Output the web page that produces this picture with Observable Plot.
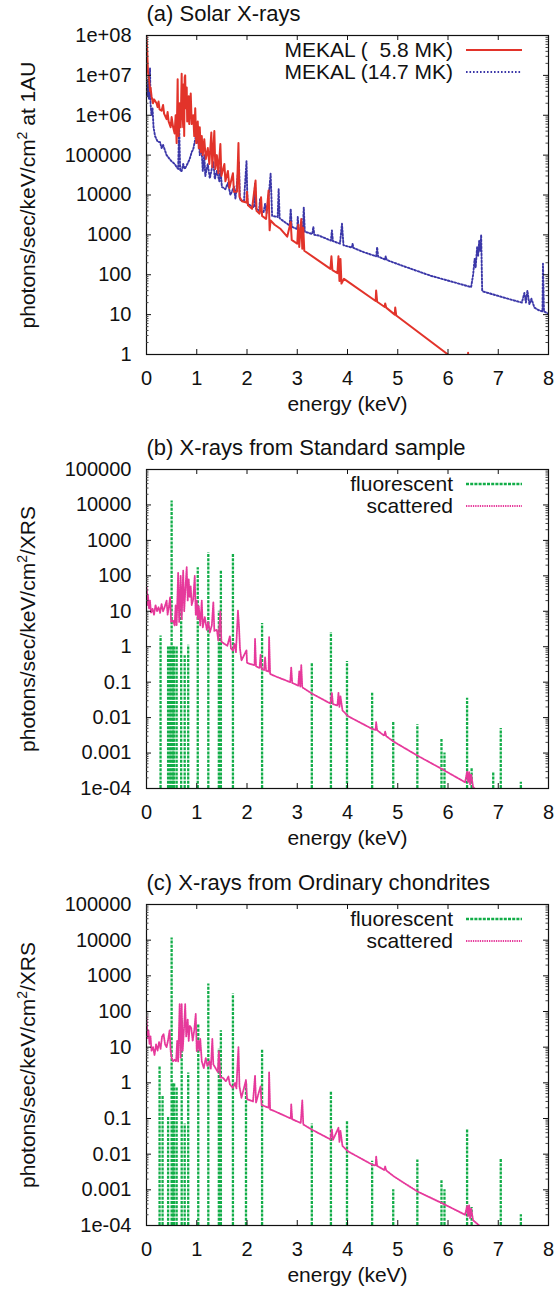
<!DOCTYPE html>
<html>
<head>
<meta charset="utf-8">
<script src="https://cdn.jsdelivr.net/npm/d3@7"></script>
<script src="https://cdn.jsdelivr.net/npm/@observablehq/plot@0.6"></script>
<style>
  html, body { margin: 0; padding: 0; background: #fff; }
  #chart { width: 556px; }
  #chart svg { display: block; background: #fff; }
</style>
</head>
<body>
<div id="chart"></div>
<script>
// ---------------- data ----------------
const energyTicks = [0, 1, 2, 3, 4, 5, 6, 7, 8];
const solarTicks = [1, 10, 100, 1e3, 1e4, 1e5, 1e6, 1e7, 1e8];
const solarTickLabels = ["1", "10", "100", "1000", "10000", "100000", "1e+06", "1e+07", "1e+08"];
const sampleTicks = [1e-4, 1e-3, 1e-2, 0.1, 1, 10, 100, 1e3, 1e4, 1e5];
const sampleTickLabels = ["1e-04", "0.001", "0.01", "0.1", "1", "10", "100", "1000", "10000", "100000"];

const titles = ["(a) Solar X-rays", "(b) X-rays from Standard sample", "(c) X-rays from Ordinary chondrites"];
const yLabels = ["photons/sec/keV/cm2 at 1AU", "photons/sec/keV/cm2/XRS", "photons/sec/keV/cm2/XRS"];
const xLabel = "energy (keV)";
const solarNames = ["MEKAL (  5.8 MK)", "MEKAL (14.7 MK)"];
const sampleNames = ["fluorescent", "scattered"];

// (a) MEKAL 5.8 MK
const mekal58E = [0.00,0.01,0.02,0.03,0.05,0.07,0.08,0.10,0.13,0.15,0.20,0.22,0.24,0.26,0.30,0.33,0.35,0.40,0.42,0.44,0.48,0.50,0.53,0.56,0.58,0.60,0.62,0.63,0.64,0.66,0.67,0.68,0.70,0.71,0.72,0.73,0.74,0.75,0.76,0.77,0.78,0.79,0.80,0.81,0.82,0.84,0.85,0.86,0.88,0.90,0.93,0.95,0.97,0.99,1.00,1.02,1.04,1.06,1.08,1.10,1.12,1.15,1.18,1.22,1.25,1.29,1.31,1.35,1.37,1.40,1.43,1.47,1.49,1.55,1.57,1.62,1.65,1.72,1.74,1.80,1.83,1.85,1.90,1.99,2.00,2.02,2.10,2.17,2.19,2.25,2.28,2.30,2.38,2.43,2.45,2.47,2.55,2.67,2.80,2.87,2.89,3.00,3.02,3.04,3.08,3.10,3.12,3.14,3.66,3.68,3.70,3.80,3.82,3.84,3.86,3.88,3.93,4.56,4.57,4.59,4.74,4.75,4.77,4.94,4.95,4.97,6.00,6.39,6.40,6.41,8.00];
const mekal58V = [1e8,6e7,2.5e7,1.2e7,8e6,4e6,5e6,3e6,2e6,2.5e6,2e6,1.6e6,2.2e6,1.4e6,1.3e6,1.8e6,1.1e6,8e5,1.2e6,7e5,5e5,9e5,5e5,3.5e5,1e6,2e5,8e6,4e5,3e5,2e6,6e5,5e5,1.1e7,8e5,1e6,5e5,6e6,3e5,9e6,1e7,1.5e6,2e6,5e6,7e5,8e5,3e6,6e5,1e6,3.5e6,6e5,1e6,3e5,1.5e6,2e5,4e5,7e5,1.5e5,5e5,1.2e5,3e5,1e5,2.5e5,8e4,1.5e5,6e4,3.7e5,5e4,4e5,4.5e4,1e5,3.5e4,1.9e5,3e4,6e4,2.2e4,4e4,1.5e4,3.5e4,1.2e4,1.2e4,2e5,9e3,7e3,6.5e3,1.2e4,5.5e3,4.5e3,2.3e4,4e3,3.4e3,8.8e3,3e3,2.5e3,1.3e4,1.3e3,2.3e3,1.8e3,1.4e3,9e2,2.1e3,7.5e2,6e2,1.8e3,5e2,2.5e3,4.5e2,1.5e3,4e2,1.4e2,2.9e2,1.3e2,1.1e2,2.9e2,7e1,2.5e2,6e1,7.9e1,2.2e1,4e1,2.1e1,1.55e1,1.9e1,1.5e1,1.0e1,1.5e1,9.5,1.0,0.45,1.1,0.44,0.013];

// (a) MEKAL 14.7 MK
const mekal147E = [0.00,0.02,0.03,0.05,0.07,0.08,0.10,0.12,0.14,0.17,0.22,0.27,0.30,0.33,0.36,0.40,0.46,0.50,0.56,0.60,0.63,0.65,0.67,0.70,0.73,0.76,0.80,0.86,0.90,0.93,0.97,1.00,1.02,1.04,1.06,1.09,1.12,1.15,1.17,1.22,1.26,1.33,1.36,1.40,1.45,1.47,1.50,1.57,1.62,1.67,1.74,1.77,1.84,1.86,1.94,1.99,2.01,2.14,2.16,2.18,2.24,2.26,2.28,2.33,2.36,2.39,2.44,2.47,2.50,2.61,2.63,2.65,2.85,2.87,2.89,3.00,3.01,3.03,3.11,3.13,3.15,3.30,3.32,3.34,3.43,3.67,3.69,3.71,3.85,3.89,3.92,4.09,4.10,4.12,4.32,4.57,4.59,4.61,4.75,4.76,4.78,4.99,5.65,6.46,6.50,6.53,6.55,6.58,6.60,6.62,6.64,6.66,6.68,6.70,7.10,7.47,7.52,7.55,7.58,7.62,7.66,7.72,7.80,7.88,7.89,7.91,8.00];
const mekal147V = [5.5e6,3e6,8e6,2.5e6,1.5e7,2e6,1e6,1.5e6,5e5,3e5,2.2e5,2.1e5,1.5e5,1.8e5,1.4e5,1e5,8e4,7e4,6e4,5e4,4.5e4,5.5e5,4e4,4e4,6e4,4.5e4,5.5e4,8e4,1.2e5,1.4e5,2.5e5,4e5,2e5,3e5,1e5,2e5,4e4,1e5,3e4,6e4,2.6e4,7e4,2.5e4,4e4,2.2e4,5e4,1.6e4,1.4e4,2e4,1e4,1.6e4,8e3,6.6e4,7.5e3,7e3,7e4,6e3,4.9e3,2e4,4.5e3,4e3,8e3,3.8e3,3.7e3,6e3,3.5e3,1.2e4,3.4e4,3e3,2.8e3,1.4e4,2.6e3,1.7e3,4.5e3,1.6e3,1.4e3,2.8e3,1.3e3,1.3e3,4.9e3,1.2e3,1.05e3,1.6e3,1e3,9.6e2,7.2e2,1.3e3,7e2,6e2,1.9e3,5.5e2,4.8e2,6e2,4.7e2,3.7e2,2.9e2,4.9e2,2.85e2,2.4e2,2.9e2,2.35e2,1.87e2,9.5e1,4.9e1,1e2,2.5e2,1.5e2,5e2,3e2,7e2,4e2,1e3,4e1,3.8e1,2.7e1,2e1,3.5e1,2e1,4e1,1.8e1,2.5e1,1.5e1,1.3e1,1.2e1,1.9e2,1.2e1,1.05e1];

// (b) Standard sample
const stdFluorE = [0.28,0.43,0.47,0.50,0.53,0.55,0.60,0.69,0.76,0.83,1.02,1.23,1.44,1.48,1.72,2.30,3.29,3.67,3.99,4.49,4.91,5.39,5.87,5.93,6.38,6.47,6.90,7.05,7.45];
const stdFluorV = [2.0,1.0,1.0,1.3e4,1.0,1.0,1.05,44,0.56,1.1,170,450,10,135,400,4.5,0.34,2.5,0.38,0.049,0.0078,0.0063,0.0024,0.001,0.035,0.00036,0.00029,0.0049,0.00015];
const stdScatE = [0.00,0.01,0.02,0.03,0.05,0.07,0.09,0.12,0.15,0.18,0.21,0.24,0.27,0.30,0.33,0.36,0.40,0.42,0.45,0.47,0.49,0.53,0.56,0.58,0.60,0.63,0.65,0.68,0.70,0.73,0.75,0.78,0.80,0.82,0.84,0.86,0.88,0.90,0.93,0.96,0.98,1.00,1.02,1.04,1.07,1.10,1.12,1.16,1.20,1.23,1.26,1.30,1.33,1.35,1.40,1.43,1.47,1.49,1.55,1.61,1.66,1.68,1.72,1.75,1.78,1.82,1.84,1.86,1.89,1.99,2.00,2.02,2.15,2.16,2.18,2.25,2.27,2.29,2.34,2.36,2.38,2.43,2.44,2.46,2.60,2.86,2.88,2.90,3.02,3.04,3.06,3.08,3.10,3.30,3.66,3.69,3.71,3.80,3.82,3.84,3.86,3.90,4.01,4.49,4.56,4.57,4.59,4.73,4.75,4.77,4.92,5.39,5.87,6.34,6.38,6.40,6.42,6.44,6.46,6.50,6.70];
const stdScatV = [50,35,15,28,12,20,9,12,8,15,10,13,9,16,10,13,20,8,15,25,5,5.5,4,15,4,125,5,100,6,140,10,60,175,20,80,25,50,15,22,100,8,20,6,14,4,20,3.5,7,3,5,2.5,4,18,2.8,3,1.5,10,1.4,1.2,1.07,2,0.9,0.78,1.2,0.7,10.5,4,0.9,0.41,0.8,0.36,0.34,0.3,1.66,0.28,0.25,0.6,0.24,0.22,0.5,0.21,0.2,1.9,0.17,0.14,0.1,0.26,0.095,0.08,0.2,0.075,0.3,0.072,0.047,0.025,0.05,0.024,0.022,0.05,0.02,0.04,0.016,0.011,0.0048,0.0045,0.0074,0.0044,0.0031,0.004,0.003,0.0021,0.00085,0.00036,0.00015,0.0003,0.00015,0.00029,0.00013,0.00025,0.00011,0.00006];

// (c) Ordinary chondrites
const ocFluorE = [0.26,0.32,0.43,0.50,0.53,0.55,0.60,0.70,0.76,0.83,1.03,1.23,1.44,1.48,1.72,1.98,2.30,3.29,3.67,3.99,4.49,4.91,5.39,5.87,5.93,6.38,6.47,7.05,7.45];
const ocFluorV = [2.8,0.43,0.11,1.15e4,1.0,1.0,0.75,62,0.07,1.9,43,590,9,29,310,1.0,8.7,0.07,0.55,0.085,0.0063,0.001,0.0069,0.0018,0.001,0.048,0.00032,0.0075,0.0002];
const ocScatE = [0.00,0.01,0.02,0.04,0.06,0.08,0.10,0.13,0.16,0.19,0.22,0.25,0.28,0.31,0.34,0.37,0.40,0.43,0.46,0.48,0.50,0.53,0.56,0.59,0.61,0.63,0.66,0.68,0.70,0.72,0.75,0.77,0.79,0.82,0.84,0.86,0.89,0.92,0.95,0.98,1.00,1.03,1.05,1.07,1.10,1.14,1.18,1.21,1.25,1.28,1.31,1.33,1.38,1.42,1.44,1.47,1.52,1.58,1.63,1.66,1.72,1.76,1.79,1.81,1.83,1.85,1.89,1.98,2.00,2.12,2.16,2.18,2.27,2.29,2.43,2.44,2.46,2.55,2.87,2.88,2.90,3.07,3.10,3.12,3.30,3.66,3.69,3.71,3.82,3.84,3.86,3.90,4.01,4.49,4.56,4.57,4.59,4.73,4.75,4.77,4.92,5.39,5.87,6.34,6.38,6.40,6.42,6.44,6.46,6.50,6.62,6.80];
const ocScatV = [70,40,18,30,12,20,8,10,6,12,8,14,9,20,23,12,10,16,30,8,5,4,4.5,4,15,4,160,5,160,8,40,160,20,60,15,40,35,15,30,85,7.8,15,8,17,4,2.6,5,3,4,2.5,17,3.3,2.5,2,8,1.4,1.4,1.1,1.5,0.9,0.72,1,0.7,3,10,0.8,0.38,1.2,0.35,0.3,1.6,0.28,0.8,0.24,0.2,2,0.18,0.16,0.1,0.25,0.095,0.075,0.32,0.068,0.048,0.026,0.05,0.025,0.055,0.022,0.045,0.017,0.012,0.0051,0.0048,0.0087,0.0047,0.0036,0.0045,0.0035,0.0024,0.0009,0.00043,0.0002,0.00035,0.00018,0.00038,0.00016,0.0003,0.00014,0.0001,0.00006];

// ---------------- styling ----------------
const FONT = '"Liberation Sans", Arial, Helvetica, sans-serif';
const FS = 20, FS_LABEL = 21, FS_TITLE = 22;
const RED = "#e2332a", BLUE = "#3b37a8", GREEN = "#12ad48", PINK = "#e6399b";
const BLUE_DASH = "1.6,1.9", PINK_DASH = "1.3,1", GREEN_DASH = "3,1.2";
const W = 556, ML = 146, MR = 8;
const FW = W - ML - MR;

function minorTicks(major) {
  const out = [];
  for (let i = 0; i < major.length - 1; i++) for (let m = 2; m <= 9; m++) out.push(major[i] * m);
  return out;
}

function idx(a) { return a.map((_, i) => i); }

function makePanel(cfg) {
  const FH = cfg.height - cfg.marginTop - cfg.marginBottom;
  const labelMap = new Map(cfg.yTicks.map((t, i) => [t, cfg.yTickLabels[i]]));
  const minors = minorTicks(cfg.yTicks);
  const marks = [];
  for (const s of cfg.impulses || []) {
    marks.push(Plot.ruleX(idx(s.E), {x: i => s.E[i], y1: cfg.yDomain[0], y2: i => s.V[i],
      stroke: s.color, strokeWidth: 2.3, strokeDasharray: GREEN_DASH, clip: true}));
  }
  for (const s of cfg.lines) {
    marks.push(Plot.line(idx(s.E), {x: i => s.E[i], y: i => s.V[i], stroke: s.color,
      strokeWidth: s.width, strokeDasharray: s.dash, strokeLinejoin: "round", clip: true}));
  }
  marks.push(
    Plot.frame({stroke: "#111", strokeWidth: 1.2}),
    Plot.tickX(energyTicks, {x: d => d, insetTop: FH - 5, stroke: "#111"}),
    Plot.tickX(energyTicks, {x: d => d, insetBottom: FH - 5, stroke: "#111"}),
    Plot.tickY(cfg.yTicks, {y: d => d, insetRight: FW - 5, stroke: "#111"}),
    Plot.tickY(cfg.yTicks, {y: d => d, insetLeft: FW - 5, stroke: "#111"}),
    Plot.tickY(minors, {y: d => d, insetRight: FW - 2.5, stroke: "#444"}),
    Plot.tickY(minors, {y: d => d, insetLeft: FW - 2.5, stroke: "#444"}),
    Plot.axisX(energyTicks, {tickSize: 0, tickPadding: 16, label: null, fontSize: FS, fill: "#111"}),
    Plot.axisY(cfg.yTicks, {tickSize: 0, tickPadding: 15, label: null, fontSize: FS, fill: "#111",
      tickFormat: d => labelMap.get(d)}),
    Plot.text([cfg.title], {frameAnchor: "top-left", dy: -22, textAnchor: "start", lineAnchor: "middle",
      fontSize: FS_TITLE, fill: "#111"}),
    Plot.text([xLabel], {frameAnchor: "bottom", dy: 50, lineAnchor: "middle", fontSize: FS_LABEL, fill: "#111"}),
    Plot.text([cfg.ylabel], {frameAnchor: "left", dx: -118.5, rotate: -90, lineAnchor: "middle",
      textAnchor: "middle", fontSize: FS_LABEL, fill: "#111"})
  );
  const svg = Plot.plot({
    width: W, height: cfg.height,
    marginLeft: ML, marginRight: MR, marginTop: cfg.marginTop, marginBottom: cfg.marginBottom,
    x: {domain: [0, 8]},
    y: {type: "log", domain: cfg.yDomain},
    style: {fontFamily: FONT, fontSize: FS + "px", background: "#fff", color: "#111", overflow: "visible"},
    marks
  });
  const s = d3.select(svg);
  // superscript 2 in the y label
  s.selectAll("text").filter(function () { return this.textContent === cfg.ylabel; }).each(function () {
    const t = d3.select(this);
    const [a, b] = cfg.ylabel.split("cm2");
    t.text(null);
    t.append("tspan").text(a + "cm");
    t.append("tspan").attr("dy", "-8").attr("font-size", "14px").text("2");
    t.append("tspan").attr("dy", "8").text(b);
  });
  // legend
  const lg = s.append("g").attr("font-family", FONT).attr("font-size", FS_LABEL).attr("fill", "#111");
  cfg.legend.forEach((e, i) => {
    const y = cfg.marginTop + 15 + i * 22;
    lg.append("text").attr("x", 453).attr("y", y).attr("dy", "0.35em").attr("text-anchor", "end")
      .attr("xml:space", "preserve").style("white-space", "pre").text(e.name);
    lg.append("line").attr("x1", 466).attr("x2", 522).attr("y1", y).attr("y2", y)
      .attr("stroke", e.color).attr("stroke-width", e.width).attr("stroke-dasharray", e.dash);
  });
  return svg;
}

const chart = document.getElementById("chart");

chart.appendChild(makePanel({
  height: 430, marginTop: 35, marginBottom: 76,
  yDomain: [1, 1e8], yTicks: solarTicks, yTickLabels: solarTickLabels,
  title: titles[0], ylabel: yLabels[0],
  lines: [
    {E: mekal147E, V: mekal147V, color: BLUE, width: 1.9, dash: BLUE_DASH},
    {E: mekal58E, V: mekal58V, color: RED, width: 2, dash: null}
  ],
  legend: [
    {name: solarNames[0], color: RED, width: 2, dash: null},
    {name: solarNames[1], color: BLUE, width: 1.9, dash: BLUE_DASH}
  ]
}));

chart.appendChild(makePanel({
  height: 435, marginTop: 39, marginBottom: 77,
  yDomain: [1e-4, 1e5], yTicks: sampleTicks, yTickLabels: sampleTickLabels,
  title: titles[1], ylabel: yLabels[1],
  impulses: [{E: stdFluorE, V: stdFluorV, color: GREEN}],
  lines: [{E: stdScatE, V: stdScatV, color: PINK, width: 1.8, dash: PINK_DASH}],
  legend: [
    {name: sampleNames[0], color: GREEN, width: 2.3, dash: GREEN_DASH},
    {name: sampleNames[1], color: PINK, width: 1.8, dash: PINK_DASH}
  ]
}));

chart.appendChild(makePanel({
  height: 427, marginTop: 39, marginBottom: 67,
  yDomain: [1e-4, 1e5], yTicks: sampleTicks, yTickLabels: sampleTickLabels,
  title: titles[2], ylabel: yLabels[2],
  impulses: [{E: ocFluorE, V: ocFluorV, color: GREEN}],
  lines: [{E: ocScatE, V: ocScatV, color: PINK, width: 1.8, dash: PINK_DASH}],
  legend: [
    {name: sampleNames[0], color: GREEN, width: 2.3, dash: GREEN_DASH},
    {name: sampleNames[1], color: PINK, width: 1.8, dash: PINK_DASH}
  ]
}));
</script>
</body>
</html>
